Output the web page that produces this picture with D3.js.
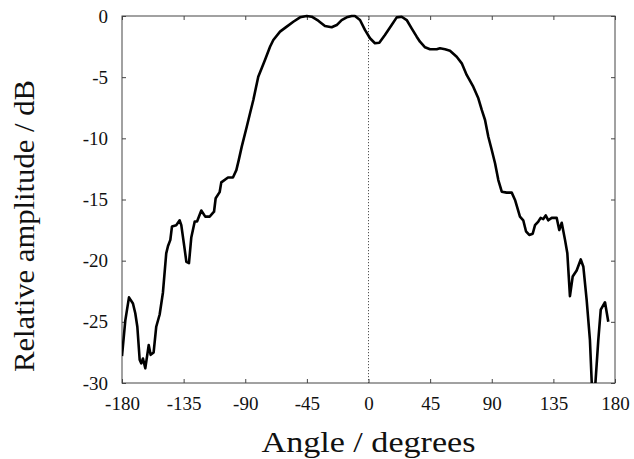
<!DOCTYPE html>
<html>
<head>
<meta charset="utf-8">
<script src="https://cdn.jsdelivr.net/npm/d3@7/dist/d3.min.js"></script>
<style>
  html, body { margin: 0; padding: 0; background: #fff; }
  svg { display: block; }
  text { font-family: "Liberation Serif", "DejaVu Serif", serif; fill: #111; }
</style>
</head>
<body>
<div id="chart"></div>
<script>
// Angle (degrees)
const angles = [-180, -177.6, -174.9, -172.0, -170.3, -168.8, -167.1, -165.9, -164.7, -163.0,
  -160.5, -159.1, -156.9, -155.0, -152.5, -150.1, -147.7, -146.4, -144.7, -143.5,
  -140.4, -137.9, -136.7, -134.2, -133.0, -131.1, -129.4, -126.9, -125.2, -122.1,
  -119.2, -116.0, -112.8, -111.6, -108.7, -107.5, -102.6, -99.0, -96.5, -94.8,
  -92.6, -88.9, -86.5, -84.1, -80.5, -78.0, -75.6, -71.9, -69.5, -64.6,
  -59.7, -54.9, -50.0, -45.1, -41.5, -36.7, -31.8, -26.9, -23.2, -19.6,
  -15.9, -12.3, -9.9, -6.2, -2.6, 1.1, 4.7, 7.9, 12.0, 16.9,
  20.6, 24.2, 27.9, 31.5, 35.2, 37.6, 41.3, 44.9, 49.8, 52.2,
  55.9, 59.5, 64.4, 68.1, 71.7, 76.5, 80.2, 82.7, 85.1, 87.5,
  90.0, 92.4, 94.8, 97.3, 100.9, 104.6, 107.0, 110.6, 113.0, 115.0,
  117.4, 119.9, 121.6, 124.0, 125.7, 127.6, 129.4, 131.3, 133.8, 137.4,
  139.3, 141.1, 143.5, 145.2, 147.1, 149.1, 152.0, 155.0, 156.9, 159.3,
  161.7, 163.6, 164.8, 167.8, 169.6, 172.7, 175.1];
// Relative amplitude (dB)
const amplitude = [-27.8, -24.9, -23.0, -23.5, -24.3, -25.4, -28.1, -28.4, -28.0, -28.8,
  -26.9, -27.7, -27.5, -25.4, -24.4, -22.6, -19.4, -18.8, -18.3, -17.2,
  -17.1, -16.7, -17.1, -19.1, -20.1, -20.2, -18.1, -16.8, -16.8, -15.9,
  -16.4, -16.4, -16.0, -14.9, -14.4, -13.6, -13.2, -13.2, -12.6, -11.8,
  -10.7, -9.05, -7.95, -6.87, -4.96, -4.28, -3.60, -2.51, -1.96, -1.28,
  -0.87, -0.47, -0.11, 0, -0.06, -0.38, -0.82, -0.92, -0.74, -0.33,
  -0.11, 0, 0, -0.33, -1.14, -1.82, -2.23, -2.18, -1.55, -0.74,
  -0.11, -0.06, -0.33, -1.01, -1.69, -2.10, -2.56, -2.72, -2.72, -2.64,
  -2.72, -2.84, -3.33, -3.87, -4.82, -5.78, -6.73, -7.68, -8.50, -9.87,
  -10.95, -12.04, -13.41, -14.36, -14.44, -14.44, -15.04, -16.4, -16.7, -17.6,
  -17.9, -17.8, -17.1, -16.8, -16.5, -16.6, -16.3, -16.7, -16.5, -16.5,
  -17.5, -16.9, -18.3, -19.4, -22.9, -21.3, -20.8, -19.9, -20.5, -23.2,
  -26.5, -31.5, -31.5, -26.5, -24.0, -23.4, -25.0];
const xTicks = [-180, -135, -90, -45, 0, 45, 90, 135, 180];
const yTicks = [0, -5, -10, -15, -20, -25, -30];
const xTitle = "Angle / degrees";
const yTitle = "Relative amplitude / dB";

const W = 634, H = 459;
const margin = { left: 122, right: 19, top: 16, bottom: 76 };
const pw = W - margin.left - margin.right;
const ph = H - margin.top - margin.bottom;

const svg = d3.select("#chart").append("svg").attr("width", W).attr("height", H);
const g = svg.append("g").attr("transform", `translate(${margin.left},${margin.top})`);

const x = d3.scaleLinear().domain([-180, 180]).range([0, pw]);
const y = d3.scaleLinear().domain([-30, 0]).range([ph, 0]);

g.append("clipPath").attr("id", "clip").append("rect")
  .attr("x", 0).attr("y", -2).attr("width", pw).attr("height", ph + 2);

// zero reference line (dotted)
g.append("line")
  .attr("x1", x(0)).attr("x2", x(0)).attr("y1", 0).attr("y2", ph)
  .attr("stroke", "#555").attr("stroke-width", 1).attr("stroke-dasharray", "1.2,1.8");

// frame
g.append("rect").attr("x", 0).attr("y", 0).attr("width", pw).attr("height", ph)
  .attr("fill", "none").attr("stroke", "#444").attr("stroke-width", 1);

const fmt = d => String(d);
const tickLen = 4;
const axB = g.append("g").attr("transform", `translate(0,${ph})`)
  .call(d3.axisBottom(x).tickValues(xTicks).tickSize(-tickLen).tickPadding(14).tickFormat(fmt));
const axT = g.append("g")
  .call(d3.axisTop(x).tickValues(xTicks).tickSize(-tickLen).tickFormat(""));
const axL = g.append("g")
  .call(d3.axisLeft(y).tickValues(yTicks).tickSize(-tickLen).tickPadding(14).tickFormat(fmt));
const axR = g.append("g").attr("transform", `translate(${pw},0)`)
  .call(d3.axisRight(y).tickValues(yTicks).tickSize(-tickLen).tickFormat(""));

[axB, axT, axL, axR].forEach(a => {
  a.select(".domain").remove();
  a.selectAll(".tick line").attr("stroke", "#444").attr("stroke-width", 1);
  a.selectAll(".tick text").style("font-family", "'Liberation Serif', serif")
    .style("font-size", "19px").attr("fill", "#111");
});

// curve
const pts = angles.map((a, i) => [a, amplitude[i]]);
g.append("path").datum(pts)
  .attr("clip-path", "url(#clip)")
  .attr("fill", "none").attr("stroke", "#000").attr("stroke-width", 2.6)
  .attr("stroke-linejoin", "round")
  .attr("d", d3.line().x(d => x(d[0])).y(d => y(d[1])));

// titles
svg.append("text").attr("x", margin.left + x(0)).attr("y", 452)
  .attr("text-anchor", "middle").style("font-size", "29px")
  .attr("textLength", 214).attr("lengthAdjust", "spacingAndGlyphs").text(xTitle);
svg.append("text").attr("transform", `translate(34,226) rotate(-90)`)
  .attr("text-anchor", "middle").style("font-size", "30px")
  .attr("textLength", 292).attr("lengthAdjust", "spacingAndGlyphs").text(yTitle);
</script>
</body>
</html>
